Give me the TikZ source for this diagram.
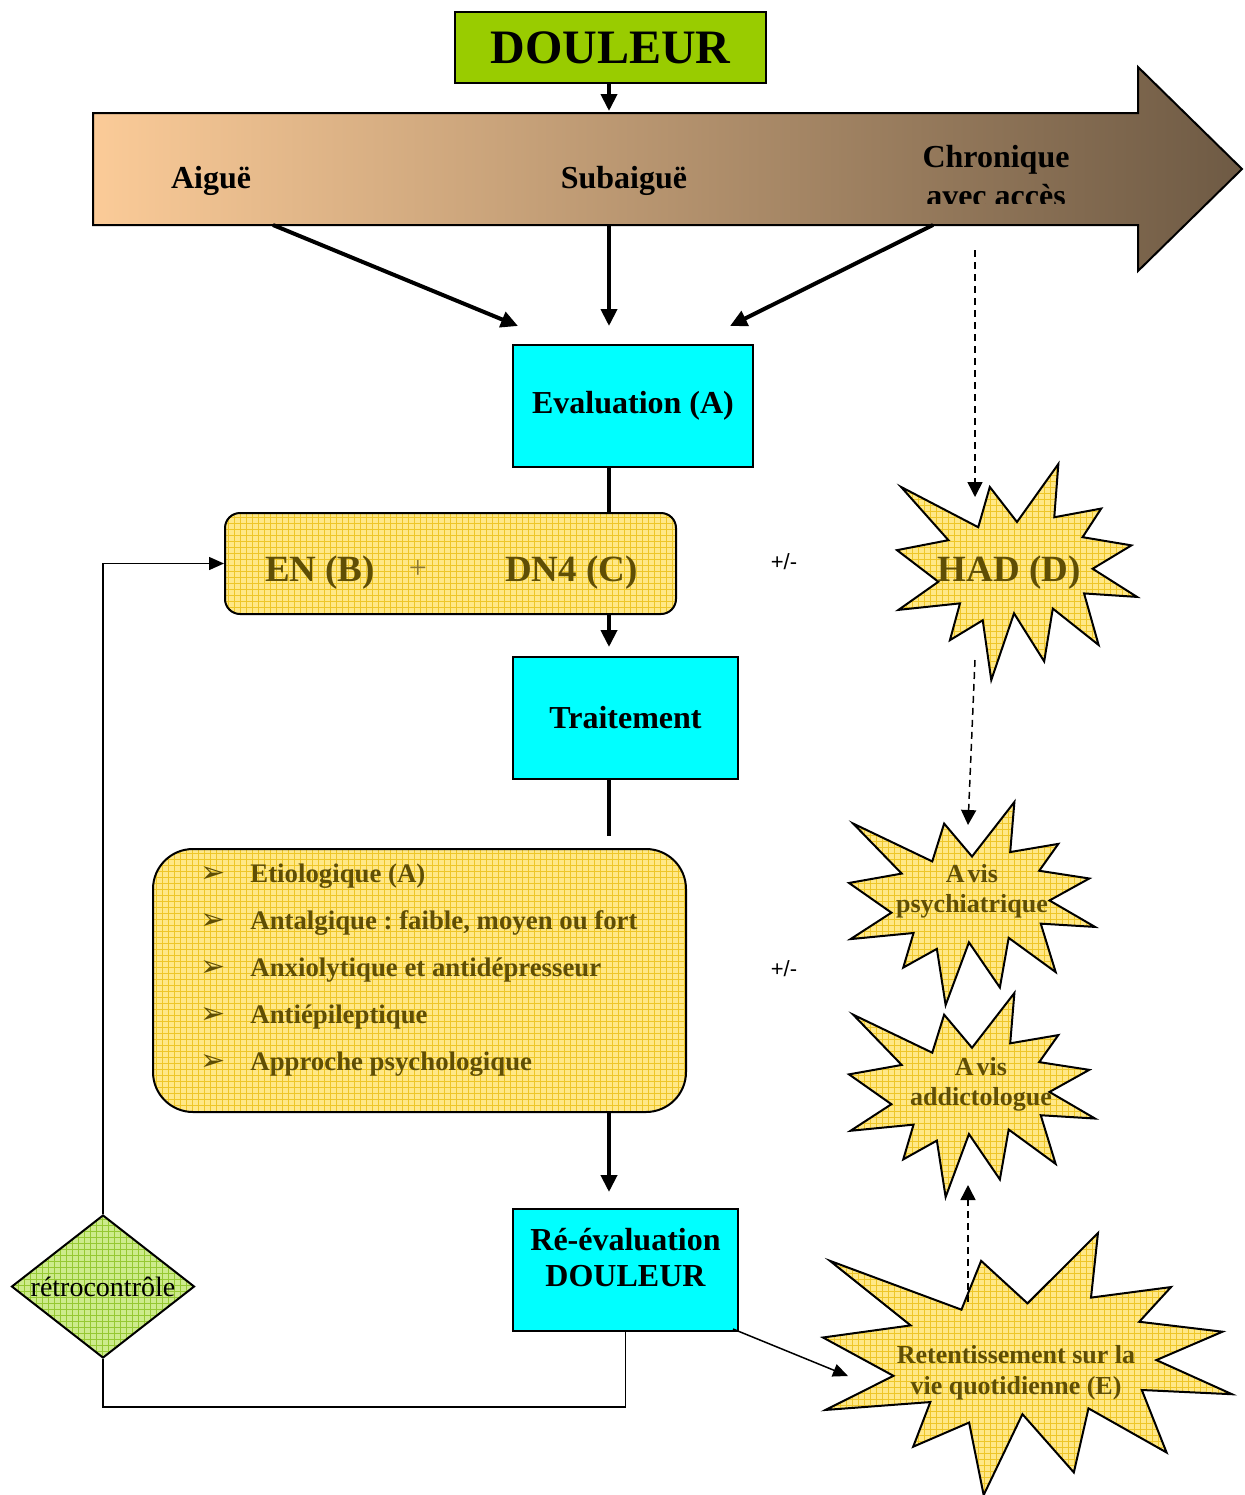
\documentclass[tikz,border=0pt]{standalone}
\usepackage{fontspec}
\setmainfont{Liberation Serif}
\newfontfamily\dejavu{DejaVu Sans}
\newfontfamily\lsans{Liberation Sans}
\usetikzlibrary{arrows.meta,patterns,shapes.geometric}
\frenchspacing
\definecolor{limeg}{RGB}{153,204,0}
\definecolor{cyanb}{RGB}{0,255,255}
\definecolor{ybase}{RGB}{255,232,135}
\definecolor{ygrid}{RGB}{238,198,40}
\definecolor{gbase}{RGB}{205,235,140}
\definecolor{ggrid}{RGB}{150,200,50}
\definecolor{olivetx}{RGB}{95,78,5}
\definecolor{olivelt}{RGB}{140,120,50}
\definecolor{peach}{RGB}{251,203,152}
\definecolor{tanmid}{RGB}{216,174,128}
\definecolor{brownd}{RGB}{110,90,68}
\tikzset{
  cyanbox/.style={draw=black, line width=1pt, fill=cyanb, minimum height=61pt, inner sep=0pt,
    font=\bfseries\fontsize{16}{19}\selectfont},
  dbox/.style={draw=black, line width=1pt, fill=limeg, minimum width=155.5pt, minimum height=35.5pt,
    inner sep=0pt, font=\bfseries\fontsize{24}{28}\selectfont},
  ybox/.style={draw=black, line width=1pt, preaction={fill=ybase}, pattern=grid, pattern color=ygrid, inner sep=0pt},
  burststy/.style={draw=black, line width=1pt, preaction={fill=ybase}, pattern=grid, pattern color=ygrid, line join=miter},
  diam/.style={shape=diamond, draw=black, line width=1pt, preaction={fill=gbase}, pattern=grid, pattern color=ggrid,
    inner sep=0pt, shape aspect=1.28, minimum width=91.5pt, minimum height=71.5pt,
    font=\fontsize{14}{16}\selectfont},
  arrowlbl/.style={anchor=base, inner sep=0pt, font=\bfseries\fontsize{16}{19}\selectfont},
  boxtxt/.style={anchor=base, inner sep=0pt, font=\bfseries\fontsize{16}{19}\selectfont},
  bigol/.style={anchor=base, inner sep=0pt, text=olivetx, font=\bfseries\fontsize{18.5}{22}\selectfont},
  smol/.style={anchor=base, inner sep=0pt, text=olivetx, font=\bfseries\fontsize{13}{15}\selectfont},
  listtxt/.style={anchor=base west, inner sep=0pt, text=olivetx, font=\bfseries\fontsize{13.4}{15}\selectfont},
  bullettxt/.style={anchor=base, inner sep=0pt, text=olivetx, font=\dejavu\fontsize{15}{17}\selectfont},
  pmtxt/.style={anchor=base, inner sep=0pt, font=\lsans\fontsize{11}{13}\selectfont},
  thickline/.style={line width=2pt},
  thickarrow/.style={line width=2pt, -{Triangle[length=8.5pt,width=8pt]}},
  dasharrow/.style={line width=0.75pt, dash pattern=on 3.5pt off 2.5pt, -{Triangle[length=7.5pt,width=7.5pt]}},
  thinline/.style={line width=0.75pt},
  thinarrow/.style={line width=0.75pt, -{Triangle[length=7.5pt,width=6.5pt]}}
}
\newcommand\drawburst[4]{%
  \begin{scope}[shift={(#1,#2)}, xscale=#3/100, yscale=#4/100]
    \draw[burststy] (50.00,26.85) -- (67.23,0) -- (65.53,24.65) -- (85.09,20.63) -- (77.32,33.87)
      -- (97.67,37.67) -- (81.51,48.50) -- (100,61.53) -- (77.95,59.92) -- (84.00,83.77)
      -- (64.91,66.93) -- (61.33,91.38) -- (48.76,69.14) -- (39.28,100) -- (35.72,72.35)
      -- (22.05,81.56) -- (26.24,64.52) -- (0.63,67.53) -- (17.23,54.51) -- (0,39.88)
      -- (21.42,35.26) -- (1.71,10.63) -- (33.85,29.26) -- (38.67,10.63) -- cycle;
  \end{scope}}
\begin{document}
\begin{tikzpicture}[x=0.5pt,y=-0.5pt]
\useasboundingbox (0,0) rectangle (1244,1495);
\coordinate (spine) at (609,0);

% big timeline arrow
\shadedraw[left color=peach, middle color=tanmid, right color=brownd, draw=black, line width=1pt, line join=miter]
  (93,113) -- (1138,113) -- (1138,67) -- (1242,169) -- (1138,271) -- (1138,225) -- (93,225) -- cycle;
\node[arrowlbl] (aigue) at (211,188) {Aiguë};
\node[arrowlbl] (subaigue) at (624,188) {Subaiguë};
\node[arrowlbl] (chron) at (996,167) {Chronique};
\begin{scope}
  \clip (850,100) rectangle (1138,203);
  \node[arrowlbl] (avec) at (996,206) {avec accès};
\end{scope}
\coordinate (a1) at (273,225);
\coordinate (a2) at (609,225);
\coordinate (a3) at (933,225);
\coordinate (e1) at (518,326);
\coordinate (e2) at (609,326);
\coordinate (e3) at (730,326);
\coordinate (arrtop) at (609,111);

% DOULEUR
\node[dbox] (douleur) at (610.5,47.5) {DOULEUR};
\draw[thickarrow] (douleur.south -| spine) -- (arrtop);

% Evaluation
\node[cyanbox, minimum width=120pt] (eval) at (633,406) {Evaluation (A)};
\draw[thickarrow] (a1) -- (e1);
\draw[thickarrow] (a2) -- (e2);
\draw[thickarrow] (a3) -- (e3);

% EN + DN4
\node[ybox, rounded corners=7.5pt, minimum width=225.5pt, minimum height=50.5pt] (enbox) at (450.5,563.5) {};
\node[bigol] (en) at (320,581) {EN (B)};
\node[anchor=base, inner sep=0pt, text=olivelt, font=\fontsize{16}{19}\selectfont] (plus) at (418,578) {+};
\node[bigol] (dn4) at (571.5,581) {DN4 (C)};
\draw[thickline] (eval.south -| spine) -- (enbox.north -| spine);

% Traitement
\node[cyanbox, minimum width=112.5pt] (trait) at (625.5,718) {Traitement};
\draw[thickarrow, shorten >=4.5pt] (enbox.south -| spine) -- (trait.north -| spine);

% list box
\node[ybox, rounded corners=20pt, minimum width=266.5pt, minimum height=131.5pt] (listbox) at (419.5,980.5) {};
\draw[thickline, shorten >=6pt] (trait.south -| spine) -- (listbox.north -| spine);
\foreach \t [count=\i from 0] in {{Etiologique (A)},{Antalgique : faible, moyen ou fort},{Anxiolytique et antidépresseur},{Antiépileptique},{Approche psychologique}}{
  \node[bullettxt] (bul\i) at (213,{882+47*\i}) {➢};
  \node[listtxt] (item\i) at (250,{882+47*\i}) {\t};
}

% Re-evaluation
\node[cyanbox, minimum width=112.5pt] (reeval) at (625.5,1270) {};
\node[boxtxt] (reeval1) at (625.5,1250) {Ré-évaluation};
\node[boxtxt] (reeval2) at (625.5,1286) {DOULEUR};
\draw[thickarrow, shorten >=8pt] (listbox.south -| spine) -- (reeval.north -| spine);

% +/- labels
\node[pmtxt] (pm1) at (784,569) {+/-};
\node[pmtxt] (pm2) at (784,976) {+/-};

% bursts
\drawburst{897}{464}{240}{216}
\node[bigol] (had) at (1009,581) {HAD (D)};
\drawburst{849}{802}{246}{203}
\node[smol] (psy1) at (972,882) {A\kern1.5pt vis};
\node[smol] (psy2) at (972,912) {psychiatrique};
\drawburst{849}{993}{246}{204}
\node[smol] (add1) at (981,1075) {A\kern1.5pt vis};
\node[smol] (add2) at (981,1105) {addictologue};
\drawburst{823}{1233}{409}{262}
\node[smol] (ret1) at (1016,1363) {Retentissement sur la};
\node[smol] (ret2) at (1016,1394) {vie quotidienne (E)};

% dashed arrows
\coordinate (d1s) at (975,250);
\coordinate (d1e) at (975,497);
\coordinate (d2s) at (975,660);
\coordinate (d2e) at (968,825);
\coordinate (d3s) at (968,1302);
\coordinate (d3e) at (968,1185);
\draw[dasharrow] (d1s) -- (d1e);
\draw[dasharrow] (d2s) -- (d2e);
\draw[dasharrow] (d3s) -- (d3e);

% re-eval to retentissement
\coordinate (rs) at (733,1329);
\coordinate (re) at (848,1376);
\draw[thinarrow] (rs) -- (re);

% feedback loop
\node[diam] (retro) at (103,1286.5) {rétrocontrôle};
\coordinate (fbcorner) at (625.5,1407);
\draw[thinline] (reeval.south) -- (fbcorner) -| (retro.south);
\draw[thinarrow] (retro.north) |- (enbox.west);
\end{tikzpicture}
\end{document}
